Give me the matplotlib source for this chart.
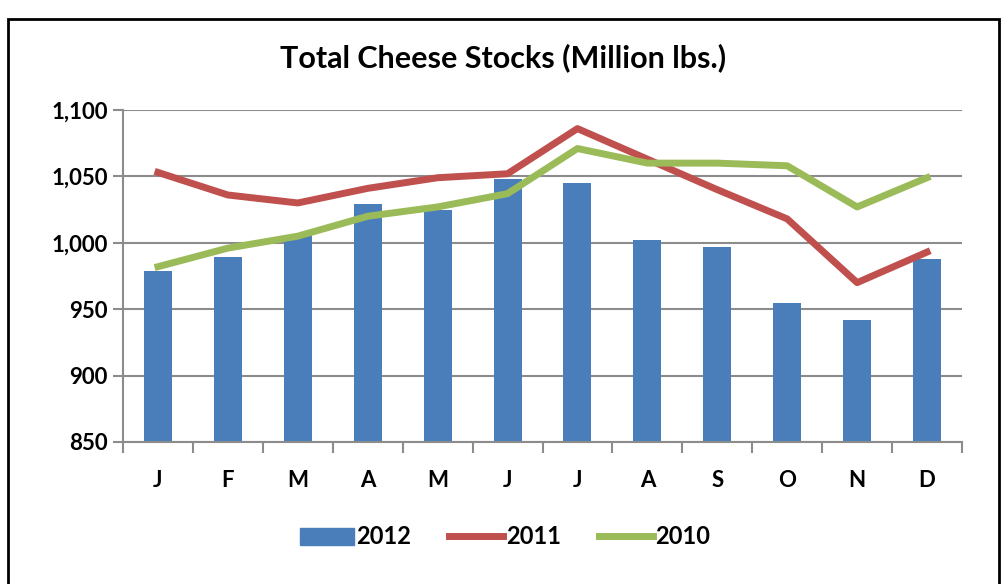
import numpy as np
import matplotlib.pyplot as plt
from matplotlib.patches import Rectangle
from matplotlib.lines import Line2D
from matplotlib.patches import Patch

months = ['J', 'F', 'M', 'A', 'M', 'J', 'J', 'A', 'S', 'O', 'N', 'D']
stocks2012 = [979, 989, 1006, 1029, 1025, 1048, 1045, 1002, 997, 955, 942, 988]
stocks2011 = [1053, 1036, 1030, 1041, 1049, 1052, 1086, 1063, 1040, 1018, 970, 993]
stocks2010 = [982, 996, 1005, 1020, 1027, 1037, 1071, 1060, 1060, 1058, 1027, 1049]
yticks = [850, 900, 950, 1000, 1050, 1100]

blue = '#4A7EBB'
red = '#C0504D'
green = '#9BBB59'
grid = '#8C8C8C'

plt.rcParams['font.family'] = ['Lato', 'DejaVu Sans']

fig = plt.figure(figsize=(10.04, 5.84), dpi=100)
# outer frame
fig.patches.append(Rectangle((8 / 1004, -0.02), 991 / 1004, (584 - 19) / 584 + 0.02,
                             transform=fig.transFigure, fill=False, edgecolor='black', linewidth=2))

ax = fig.add_axes([123 / 1004, 1 - 442 / 584, 839 / 1004, 332 / 584])
x = np.arange(len(months))
ax.bar(x, [v - 850 for v in stocks2012], bottom=850, width=0.4, color=blue, zorder=2)
ax.plot(x, stocks2011, color=red, linewidth=5, zorder=3, solid_joinstyle='round')
ax.plot(x, stocks2010, color=green, linewidth=5, zorder=4, solid_joinstyle='round')

ax.set_xlim(-0.5, 11.5)
ax.set_ylim(850, 1100)
ax.set_yticks(yticks)
ax.set_yticklabels([f'{v:,}' for v in yticks], fontsize=16, fontweight='bold')
ax.yaxis.grid(True, color=grid, linewidth=1.5, zorder=0)
ax.set_axisbelow(True)
ax.tick_params(axis='y', length=7, width=1.5, color=grid, pad=4)

ax.set_xticks(np.arange(-0.5, 12, 1))
ax.set_xticklabels([])
ax.set_xticks(x, minor=True)
ax.set_xticklabels(months, minor=True, fontsize=16, fontweight='bold')
ax.tick_params(axis='x', which='major', length=8, width=1.5, color=grid)
ax.tick_params(axis='x', which='minor', length=0, pad=20)

for s in ['top', 'right']:
    ax.spines[s].set_visible(False)
for s in ['left', 'bottom']:
    ax.spines[s].set_color(grid)
    ax.spines[s].set_linewidth(1.5)

fig.text(503 / 1004, 1 - 58 / 584, 'Total Cheese Stocks (Million lbs.)', ha='center', va='center',
         fontsize=22, fontweight='bold')

handles = [Patch(color=blue), Line2D([], [], color=red, linewidth=5), Line2D([], [], color=green, linewidth=5)]
fig.legend(handles, ['2012', '2011', '2010'], loc='center', bbox_to_anchor=(505 / 1004, 1 - 537 / 584),
           ncol=3, frameon=False, prop={'size': 17, 'weight': 'bold'}, handlelength=2.3,
           handletextpad=0.1, columnspacing=1.6)

fig.savefig('out.png', dpi=100)
